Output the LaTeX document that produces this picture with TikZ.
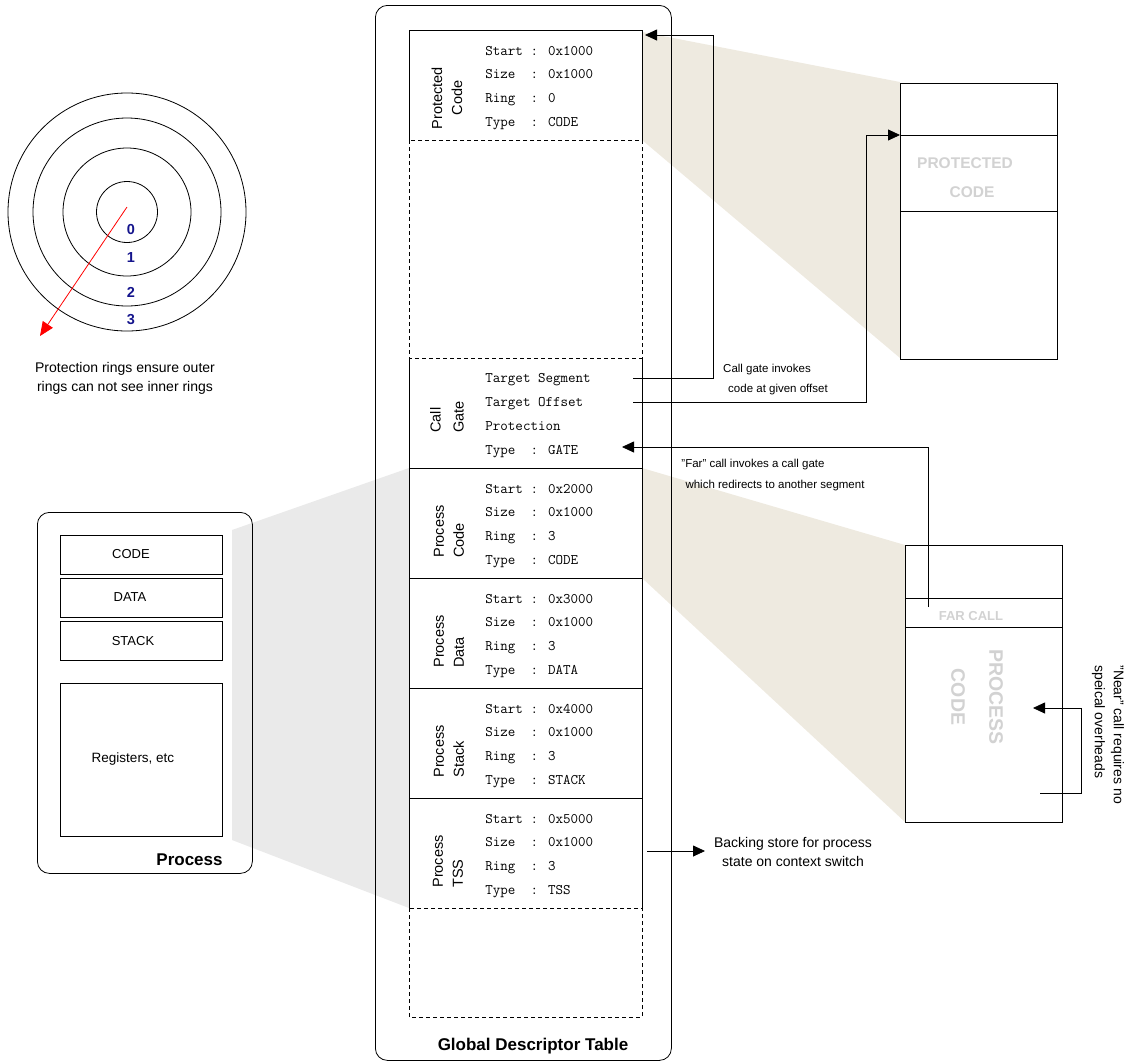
\documentclass[tikz,border=0pt]{standalone}
\usepackage{fontspec}
\setmainfont{Liberation Sans}
\usetikzlibrary{arrows.meta}
\definecolor{beige}{RGB}{238,234,224}
\definecolor{wedgegray}{RGB}{234,234,234}
\definecolor{ghost}{RGB}{210,210,210}
\definecolor{ringblue}{RGB}{20,20,140}
\newcommand\fsz[2]{\fontsize{#1}{#2}\selectfont}
\newcommand\segtext[6]{%
  \node[mono] (#1a) at (485,{#2+25}) {Start : #3};
  \node[mono] (#1b) at (485,{#2+48}) {Size~~: #4};
  \node[mono] (#1c) at (485,{#2+72}) {Ring~~: #5};
  \node[mono] (#1d) at (485,{#2+96}) {Type~~: #6};
}
\begin{document}
\begin{tikzpicture}[x=1pt,y=-1pt,line width=0.8pt,
  arr/.style={-{Triangle[length=12pt,width=11pt]}},
  ringc/.style={circle,draw,inner sep=0},
  num/.style={font=\bfseries\fsz{14.5}{16},text=ringblue,inner sep=0},
  mono/.style={font=\ttfamily\fsz{14.6}{16},anchor=base west,inner sep=0},
  entry/.style={minimum width=233pt,minimum height=110pt,anchor=north west,inner sep=0,outer sep=0},
  vlabel/.style={rotate=90,anchor=west,align=left,inner sep=0,font=\fsz{14.5}{20}},
  sbox/.style={draw,anchor=north west,inner sep=0,outer sep=0,minimum width=162pt},
  note/.style={inner sep=0,font=\fsz{11.5}{14}},
  txt/.style={inner sep=0,font=\fsz{14}{19},align=center},
  ghosttxt/.style={inner sep=0,text=ghost,font=\bfseries\fsz{15.5}{20}},
  dashline/.style={dash pattern=on 4pt off 3pt}]
\useasboundingbox (0,0) rectangle (1130,1063);

% wedges
\fill[beige] (642,32) -- (900,82) -- (900,358) -- (642,140) -- cycle;
\fill[beige] (642,468) -- (905,545) -- (905,822) -- (642,578) -- cycle;
\fill[wedgegray] (232,530) -- (409,468) -- (409,908) -- (232,840) -- cycle;

% rings
\node[ringc,minimum size=238pt] (r3) at (127,212) {};
\node[ringc,minimum size=188pt] (r2) at (127,212) {};
\node[ringc,minimum size=128pt] (r1) at (127,212) {};
\node[ringc,minimum size=61pt] (r0) at (127,212) {};
\node[num] (n0) at (131,230) {0};
\node[num] (n1) at (131,258) {1};
\node[num] (n2) at (131,292) {2};
\node[num] (n3) at (131,320) {3};
\coordinate (redS) at (127,207);
\coordinate (redE) at (40,336);
\draw[red,-{Triangle[length=14pt,width=12pt]}] (redS) -- (redE);
\node[txt] (ringcap) at (125,378) {Protection rings ensure outer\\rings can not see inner rings};

% process box
\node[draw,rounded corners=12pt,minimum width=215pt,minimum height=361pt,anchor=north west,inner sep=0] (proc) at (37,512) {};
\node[sbox,minimum height=39pt] (bcode) at (60,535) {};
\node[sbox,minimum height=39pt] (bdata) at (60,578) {};
\node[sbox,minimum height=39pt] (bstack) at (60,621) {};
\node[sbox,minimum height=153pt] (bregs) at (60,683) {};
\node[inner sep=0,font=\fsz{13}{15}] (tcode) at (131,554) {CODE};
\node[inner sep=0,font=\fsz{13}{15}] (tdata) at (130,597) {DATA};
\node[inner sep=0,font=\fsz{13}{15}] (tstack) at (133,641) {STACK};
\node[inner sep=0,font=\fsz{13.5}{15}] (tregs) at (133,759) {Registers, etc};
\node[inner sep=0,anchor=east,font=\bfseries\fsz{17}{20}] (tproc) at (223,860) {Process};

% GDT
\node[draw,rounded corners=12pt,minimum width=296pt,minimum height=1055pt,anchor=north west,inner sep=0] (gdt) at (375,5) {};
\node[entry] (pc) at (409,30) {};
\node[entry,minimum height=218pt] (gap1) at (409,140) {};
\node[entry] (cg) at (409,358) {};
\node[entry] (pcd) at (409,468) {};
\node[entry] (pdt) at (409,578) {};
\node[entry] (pst) at (409,688) {};
\node[entry] (tss) at (409,798) {};
\node[entry,minimum height=109pt] (gap2) at (409,908) {};
\draw (pc.south west) -- (pc.north west) -- (pc.north east) -- (pc.south east);
\draw[dashline] (gap1.north west) rectangle (gap1.south east);
\draw (cg.north west) -- (tss.south west);
\draw (cg.north east) -- (tss.south east);
\foreach \n in {cg,pcd,pdt,pst} \draw (\n.south west) -- (\n.south east);
\draw[dashline] (gap2.north west) rectangle (gap2.south east);
\node[inner sep=0,font=\bfseries\fsz{17}{20}] (tgdt) at (533,1046) {Global Descriptor Table};

% entry texts
\segtext{pct}{30}{0x1000}{0x1000}{0}{CODE}
\node[mono] (cga) at (485,382) {Target Segment};
\node[mono] (cgb) at (485,406) {Target Offset};
\node[mono] (cgc) at (485,430) {Protection};
\node[mono] (cgd) at (485,454) {Type~~: GATE};
\segtext{pcdt}{468}{0x2000}{0x1000}{3}{CODE}
\segtext{pdtt}{578}{0x3000}{0x1000}{3}{DATA}
\segtext{pstt}{688}{0x4000}{0x1000}{3}{STACK}
\segtext{tsst}{798}{0x5000}{0x1000}{3}{TSS}

\node[rotate=90,align=center,inner sep=0,font=\fsz{14.5}{20}] (lpc) at (447,98) {Protected\\Code};
\node[vlabel,font=\fsz{14.5}{23}] (lcg) at (447,433) {Call\\Gate};
\node[vlabel] (lpcd) at (449,558) {Process\\Code};
\node[vlabel] (lpdt) at (449,668) {Process\\Data};
\node[vlabel] (lpst) at (449,778) {Process\\Stack};
\node[vlabel] (ltss) at (448,888) {Process\\TSS};

% right upper box
\node[draw,fill=white,minimum width=157pt,minimum height=276pt,anchor=north west,inner sep=0] (pcbox) at (900,83) {};
\node[draw,minimum width=157pt,minimum height=76pt,anchor=north west,inner sep=0] (pcsec) at (900,135) {};
\node[ghosttxt] (pt1) at (965,163) {PROTECTED};
\node[ghosttxt] (pt2) at (972,192) {CODE};

% right lower box
\node[draw,fill=white,minimum width=157pt,minimum height=277pt,anchor=north west,inner sep=0] (codebox) at (905,545) {};
\node[draw,minimum width=157pt,minimum height=29pt,anchor=north west,inner sep=0] (farsec) at (905,598) {};
\node[ghosttxt,font=\bfseries\fsz{13}{15}] (tfar) at (971,616) {FAR CALL};
\node[ghosttxt,rotate=-90,align=center,font=\bfseries\fsz{19.5}{38}] (tpcode) at (977,697) {PROCESS\\CODE};

% connectors
\coordinate (segS) at (633,378);
\coordinate (segA) at (713,378);
\coordinate (segB) at (713,35);
\coordinate (segE) at (645,35);
\draw[arr] (segS) -- (segA) -- (segB) -- (segE);
\coordinate (offS) at (633,402);
\coordinate (offA) at (866,402);
\coordinate (offB) at (866,135);
\draw[arr] (offS) -- (offA) -- (offB) -- (pcsec.north west);
\coordinate (farS) at (928,607);
\coordinate (farA) at (928,447);
\coordinate (farE) at (622,447);
\draw[arr] (farS) -- (farA) -- (farE);
\coordinate (nearS) at (1040,793);
\coordinate (nearA) at (1081,793);
\coordinate (nearB) at (1081,708);
\coordinate (nearE) at (1033,708);
\draw[arr] (nearS) -- (nearA) -- (nearB) -- (nearE);
\coordinate (tssS) at (647,851);
\coordinate (tssE) at (705,851);
\draw[arr] (tssS) -- (tssE);

% notes
\node[note] (n1a) at (767,370) {Call gate invokes};
\node[note] (n1b) at (778,390) {code at given offset};
\node[note] (n2a) at (753,465) {"Far" call invokes a call gate};
\node[note] (n2b) at (775,486) {which redirects to another segment};
\node[txt] (nback) at (793,852) {Backing store for process\\state on context switch};
\node[txt,rotate=-90,anchor=west,align=left] (nnear) at (1108,665) {"Near" call requires no\\speical overheads};
\end{tikzpicture}
\end{document}
